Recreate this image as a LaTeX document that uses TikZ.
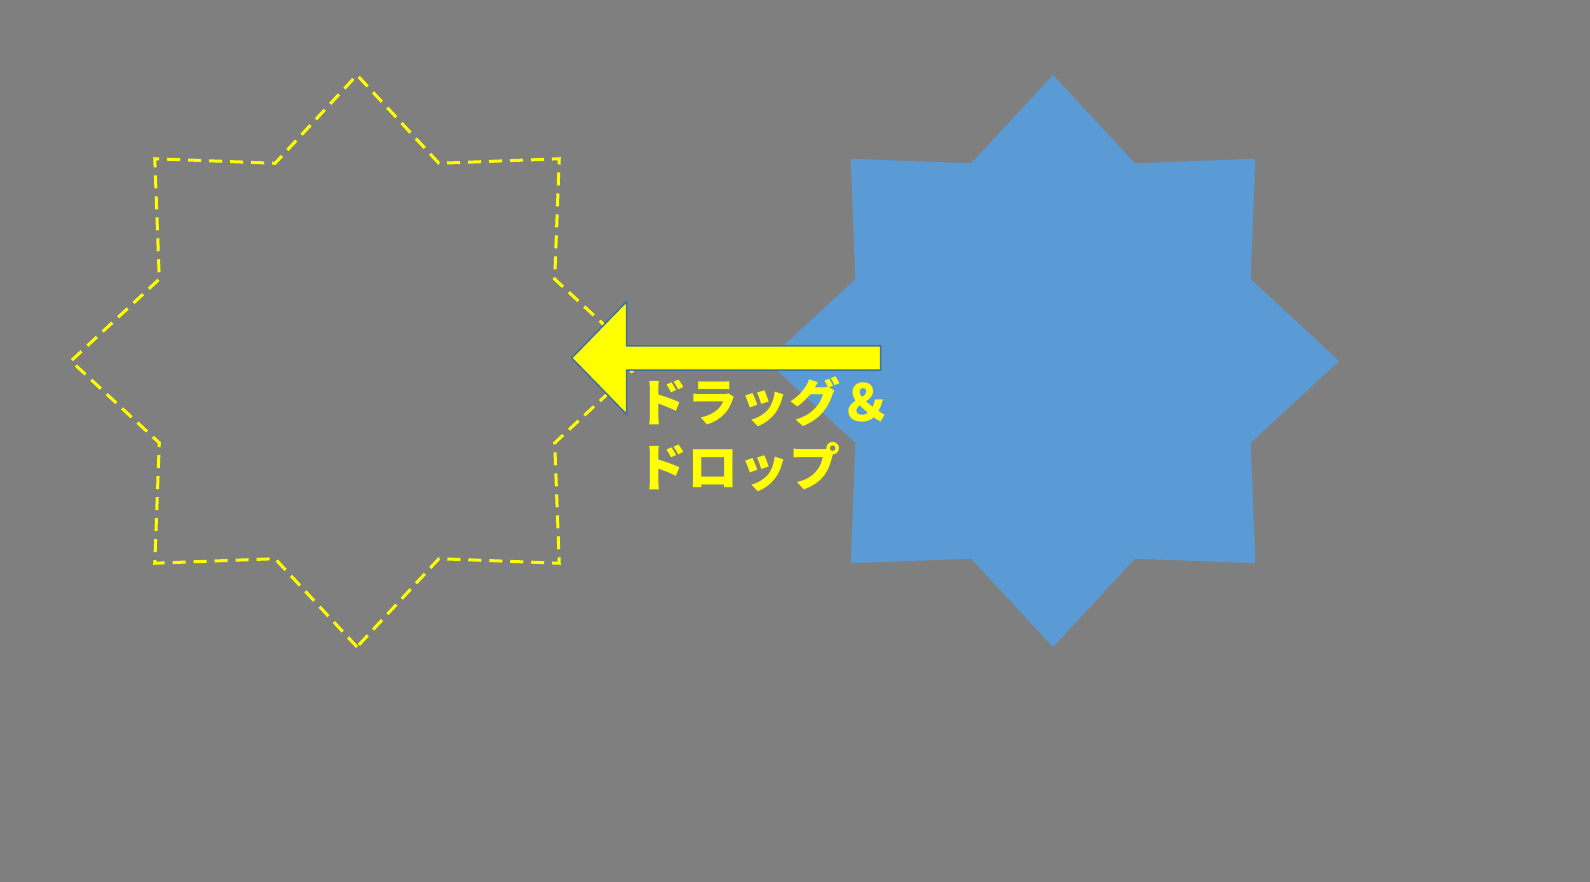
\documentclass[tikz,border=0pt]{standalone}
\usepackage{fontspec}
\newfontfamily\cjk{Noto Sans CJK JP}
\definecolor{bggray}{RGB}{127,127,127}
\definecolor{starblue}{RGB}{91,155,213}
\definecolor{arrowline}{RGB}{65,113,156}
\definecolor{hiyellow}{RGB}{255,255,0}
\tikzset{
  solidstar/.style={fill=starblue},
  ghoststar/.style={draw=hiyellow, line width=3pt, dash pattern=on 13pt off 8pt, line join=miter},
  blockarrow/.style={fill=hiyellow, draw=arrowline, line width=1.5pt, line join=miter},
  dndlabel/.style={text=hiyellow, font=\cjk\bfseries\fontsize{51}{65}\selectfont, inner sep=0pt, align=left}
}
\begin{document}
\begin{tikzpicture}[x=1pt,y=-1pt]
\fill[bggray] (0,0) rectangle (1590,882);
\useasboundingbox (0,0) rectangle (1590,882);
\coordinate (dst) at (357,361);
\coordinate (src) at (1053,361);
% target (ghost) star
\draw[ghoststar] ([shift={(90:286)}]dst)
  \foreach \i [evaluate=\i as \r using {mod(\i,2)==0 ? 286 : 214}] in {1,...,15} { -- ([shift={(90+\i*22.5:\r)}]dst) } -- cycle;
% source star
\fill[solidstar] ([shift={(90:286)}]src)
  \foreach \i [evaluate=\i as \r using {mod(\i,2)==0 ? 286 : 214}] in {1,...,15} { -- ([shift={(90+\i*22.5:\r)}]src) } -- cycle;
% block arrow
\draw[blockarrow] (571.7,358) -- (626.7,301.5) -- (626.7,345.8) -- (880.7,345.8) -- (880.7,370.2) -- (626.7,370.2) -- (626.7,414.5) -- cycle;
\node[dndlabel, anchor=base west] (lbl) at (636,486) {ドラッグ＆\\ドロップ};
\end{tikzpicture}
\end{document}
